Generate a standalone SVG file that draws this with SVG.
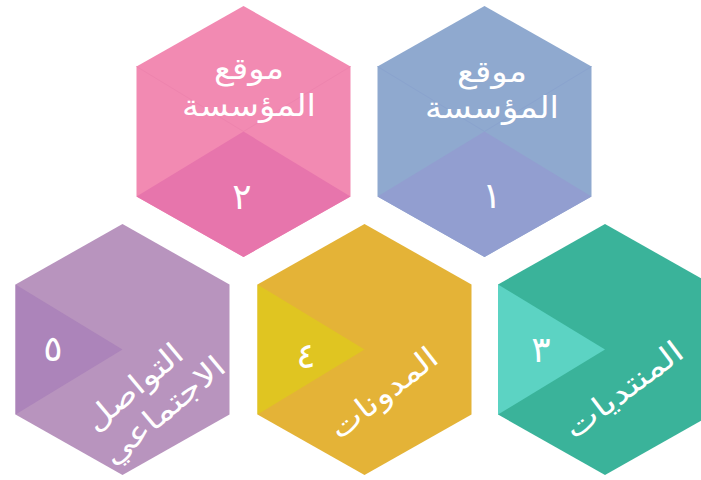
<svg xmlns="http://www.w3.org/2000/svg" width="701" height="480" viewBox="0 0 701 480">
<style>
.t{font-family:"DejaVu Sans",sans-serif;fill:#ffffff;text-anchor:middle}
.lbl{font-size:30px}
.num{font-size:36px}
.fl{stroke-width:1;fill:none}
</style>
<rect width="701" height="480" fill="#ffffff"/>
<g id="node1">
<polygon points="484.5,6 591.5,66.5 591.5,196.5 484.5,257 377.5,196.5 377.5,66.5" fill="#8FA9CF"/>
<polyline class="fl" points="377.5,66.5 484.5,131.5 591.5,66.5" stroke="#8AA3CE"/>
<polygon points="377.5,196.5 484.5,131.5 591.5,196.5 484.5,257" fill="#929ED0"/>
<text class="t lbl" x="492" y="82" textLength="70" lengthAdjust="spacingAndGlyphs">موقع</text>
<text class="t lbl" x="492" y="118" textLength="134" lengthAdjust="spacingAndGlyphs">المؤسسة</text>
<text class="t num" x="492" y="208">١</text>
</g>
<g id="node2">
<polygon points="243.5,6 350.5,66.5 350.5,196.5 243.5,257 136.5,196.5 136.5,66.5" fill="#F28AB2"/>
<polyline class="fl" points="136.5,66.5 243.5,131.5 350.5,66.5" stroke="#EE84AE"/>
<polygon points="136.5,196.5 243.5,131.5 350.5,196.5 243.5,257" fill="#E775AC"/>
<text class="t lbl" x="249" y="79" textLength="70" lengthAdjust="spacingAndGlyphs">موقع</text>
<text class="t lbl" x="249" y="116" textLength="134" lengthAdjust="spacingAndGlyphs">المؤسسة</text>
<text class="t num" x="242" y="209">٢</text>
</g>
<g id="node3">
<polygon points="605,224 712,284.5 712,414.5 605,475 498,414.5 498,284.5" fill="#3AB39A"/>
<polygon points="498,284.5 605,349.5 498,414.5" fill="#5CD3C3"/>
<text class="t num" x="541" y="362">٣</text>
<text class="t lbl" transform="translate(630,398) rotate(-37)" x="0" y="0" textLength="140" lengthAdjust="spacingAndGlyphs">المنتديات</text>
</g>
<g id="node4">
<polygon points="364.5,224 471.5,284.5 471.5,414.5 364.5,475 257.5,414.5 257.5,284.5" fill="#E4B337"/>
<polygon points="257.5,284.5 364.5,349.5 257.5,414.5" fill="#E0C521"/>
<text class="t num" x="306" y="368">٤</text>
<text class="t lbl" transform="translate(390,401) rotate(-38)" x="0" y="0" textLength="128" lengthAdjust="spacingAndGlyphs">المدونات</text>
</g>
<g id="node5">
<polygon points="122.5,224 229.5,284.5 229.5,414.5 122.5,475 15.5,414.5 15.5,284.5" fill="#B894BE"/>
<polygon points="15.5,284.5 122.5,349.5 15.5,414.5" fill="#AC84BA"/>
<text class="t num" x="53" y="361">٥</text>
<g transform="translate(150,400) rotate(-40)">
<text class="t lbl" x="-4" y="-10" textLength="118" lengthAdjust="spacingAndGlyphs">التواصل</text>
<text class="t lbl" x="4" y="27" textLength="150" lengthAdjust="spacingAndGlyphs">الاجتماعي</text>
</g>
</g>
<g id="connectors"></g>
</svg>
